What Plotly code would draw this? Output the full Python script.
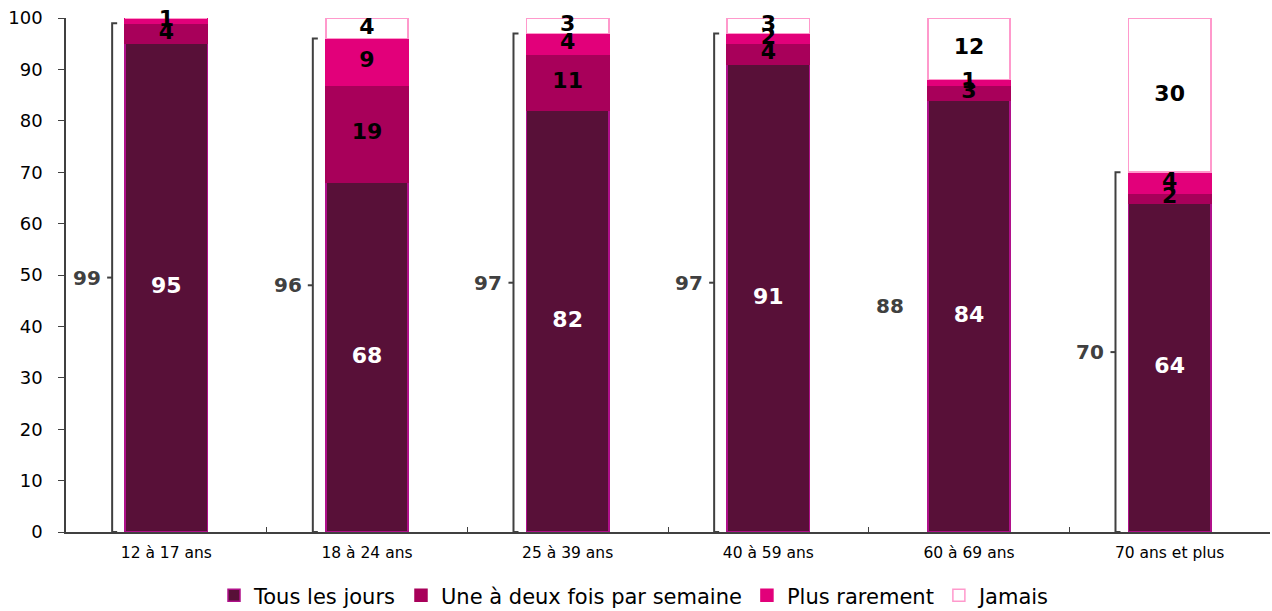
import plotly.graph_objects as go

categories = ["12 à 17 ans", "18 à 24 ans", "25 à 39 ans", "40 à 59 ans", "60 à 69 ans", "70 ans et plus"]
series_names = ["Tous les jours", "Une à deux fois par semaine", "Plus rarement", "Jamais"]
tous_les_jours = [95, 68, 82, 91, 84, 64]
une_a_deux = [4, 19, 11, 4, 3, 2]
plus_rarement = [1, 9, 4, 2, 1, 4]
jamais = [0, 4, 3, 3, 12, 30]
totals = [99, 96, 97, 97, 88, 70]
show_bracket = [True, True, True, True, False, True]
y_ticks = list(range(0, 101, 10))

series = [tous_les_jours, une_a_deux, plus_rarement, jamais]
fill_colors = ["#581038", "#A8005A", "#E2007A", "#FFFFFF"]
line_colors = ["#B0108A", "#A8005A", "#E2007A", "#FF99CC"]
text_colors = ["white", "black", "black", "black"]

FONT = "DejaVu Sans"
fig = go.Figure()

for name, vals, fc, lc in zip(series_names, series, fill_colors, line_colors):
    fig.add_trace(go.Bar(
        x=categories, y=vals, name=name, width=0.41,
        marker=dict(color=fc, line=dict(color=lc, width=1.5)),
        hoverinfo="skip",
    ))

# segment labels
idx = list(range(len(categories)))
base = [0] * len(categories)
for vals, tc in zip(series, text_colors):
    centers = [b + v / 2 for b, v in zip(base, vals)]
    labels = [str(v) if v > 0 else "" for v in vals]
    fig.add_trace(go.Scatter(
        x=idx, y=centers, text=labels, mode="text", xaxis="x2",
        textfont=dict(family=FONT, size=22, color=tc, weight="bold"),
        showlegend=False, hoverinfo="skip", cliponaxis=False,
    ))
    base = [b + v for b, v in zip(base, vals)]

# brackets
off = -0.27
h = 0.025
bx, by = [], []
for i, (t, s) in enumerate(zip(totals, show_bracket)):
    if not s:
        continue
    x0 = i + off
    bx += [x0 + h, x0, x0, x0 + h, None, x0, x0 - h, None]
    by += [0, 0, t, t, None, t / 2, t / 2, None]
fig.add_trace(go.Scatter(
    x=bx, y=by, mode="lines", xaxis="x2",
    line=dict(color="#404040", width=2),
    showlegend=False, hoverinfo="skip", cliponaxis=False,
))

for i, t in enumerate(totals):
    fig.add_annotation(
        x=i + off, y=t / 2, xref="x2", yref="y", text=str(t),
        showarrow=False, xanchor="right", yanchor="middle", xshift=-9,
        font=dict(family=FONT, size=20, color="#404040", weight="bold"),
    )

fig.update_layout(
    width=1272, height=611,
    barmode="stack",
    plot_bgcolor="white", paper_bgcolor="white",
    margin=dict(l=66, r=2, t=18, b=79, autoexpand=False),
    font=dict(family=FONT, color="black"),
    xaxis=dict(
        type="category", range=[-0.5, 5.5], tickson="boundaries",
        ticks="inside", ticklen=5, tickcolor="#404040",
        showline=True, linecolor="#404040", linewidth=1.5,
        tickfont=dict(family=FONT, size=15.5, color="black"),
        ticklabelstandoff=6, showgrid=False, automargin=False,
    ),
    xaxis2=dict(
        overlaying="x", range=[-0.5, 5.5], visible=False, showgrid=False,
    ),
    yaxis=dict(
        range=[0, 100], tickvals=y_ticks, ticks="outside", ticklen=6,
        tickcolor="#404040", showline=True, linecolor="#404040", linewidth=1.5,
        tickfont=dict(family=FONT, size=18, color="black"),
        ticklabelstandoff=12, showgrid=False, zeroline=False, automargin=False,
    ),
    legend=dict(
        orientation="h", x=0.4726, xanchor="center", y=-0.084, yanchor="top",
        font=dict(family=FONT, size=21, color="black"),
        itemwidth=30, traceorder="normal", tracegroupgap=0,
    ),
    showlegend=True,
)

fig.write_html("out.html", config={"displayModeBar": False},
               post_script="document.body.style.margin='0';")
